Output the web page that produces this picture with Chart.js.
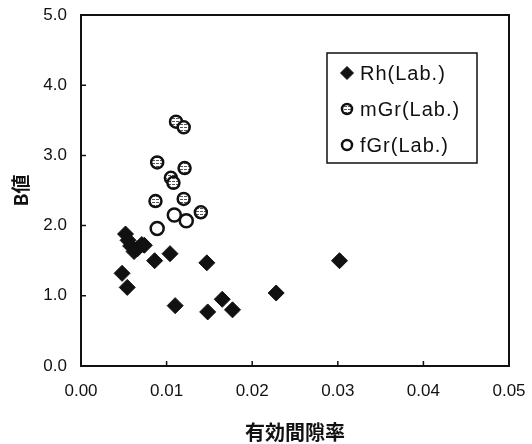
<!DOCTYPE html>
<html>
<head>
<meta charset="utf-8">
<script src="https://cdn.jsdelivr.net/npm/chart.js@4"></script>
<style>
  html, body { margin: 0; padding: 0; background: #fff; }
  #wrap { width: 532px; height: 444px; }
</style>
</head>
<body>
<div id="wrap"><canvas id="myChart"></canvas></div>
<script>
Chart.defaults.font.family = "'Liberation Sans', Arial, sans-serif";
Chart.defaults.font.size = 17;
Chart.defaults.color = '#111';

// Rh (Lab.)
const rhX = [0.0052, 0.0055, 0.0058, 0.0062, 0.0066, 0.0071, 0.0074, 0.0086, 0.0104, 0.0147,
             0.0048, 0.0054, 0.0110, 0.0148, 0.0165, 0.0177, 0.0228, 0.0302];
const rhY = [1.88, 1.79, 1.71, 1.63, 1.67, 1.73, 1.72, 1.50, 1.60, 1.47,
             1.32, 1.12, 0.86, 0.77, 0.95, 0.80, 1.04, 1.50];
// mGr (Lab.)
const mgrX = [0.0111, 0.0120, 0.0089, 0.0121, 0.0105, 0.0108, 0.0087, 0.0120, 0.0140];
const mgrY = [3.48, 3.40, 2.90, 2.82, 2.68, 2.61, 2.35, 2.38, 2.19];
// fGr (Lab.)
const fgrX = [0.0109, 0.0123, 0.0089];
const fgrY = [2.15, 2.07, 1.96];

const seriesLabels = ['Rh(Lab.)', 'mGr(Lab.)', 'fGr(Lab.)'];
const xTicks = [0, 0.01, 0.02, 0.03, 0.04, 0.05];
const yTicks = [0, 1, 2, 3, 4, 5];

function toPoints(xs, ys) {
    return xs.map((x, i) => ({ x: x, y: ys[i] }));
}

// 網掛けの塗り (mGr)
function hatch() {
    const c = document.createElement('canvas');
    c.width = 4; c.height = 3;
    const g = c.getContext('2d');
    g.fillStyle = '#fff';
    g.fillRect(0, 0, 4, 3);
    g.fillStyle = '#555';
    g.fillRect(0, 1, 3, 1);
    return g.createPattern(c, 'repeat');
}

// 枠線と内向きの目盛り
const frame = {
    id: 'frame',
    afterDatasetsDraw(chart) {
        const { ctx, chartArea: a, scales } = chart;
        ctx.save();
        ctx.strokeStyle = '#111';
        ctx.lineWidth = 2;
        ctx.strokeRect(a.left, a.top, a.right - a.left, a.bottom - a.top);
        ctx.lineWidth = 1.5;
        ctx.beginPath();
        yTicks.forEach(v => {
            const y = scales.y.getPixelForValue(v);
            ctx.moveTo(a.left, y); ctx.lineTo(a.left + 5, y);
        });
        xTicks.forEach(v => {
            const x = scales.x.getPixelForValue(v);
            ctx.moveTo(x, a.bottom); ctx.lineTo(x, a.bottom - 5);
        });
        ctx.stroke();
        ctx.restore();
    }
};

// 凡例（グラフ内の枠）
const boxLegend = {
    id: 'boxLegend',
    afterDraw(chart) {
        const ctx = chart.ctx;
        const a = chart.chartArea;
        const left = a.left + 246, top = a.top + 38, w = 150, h = 110;
        ctx.save();
        ctx.fillStyle = '#fff';
        ctx.fillRect(left, top, w, h);
        ctx.strokeStyle = '#111';
        ctx.lineWidth = 1.5;
        ctx.strokeRect(left, top, w, h);
        ctx.font = "20px 'Liberation Sans', Arial, sans-serif";
        ctx.letterSpacing = '1px';
        ctx.textBaseline = 'middle';
        ctx.fillStyle = '#111';
        chart.data.datasets.forEach((ds, i) => {
            const y = top + 20 + i * 36;
            ctx.fillStyle = ds.backgroundColor;
            ctx.strokeStyle = ds.borderColor;
            ctx.lineWidth = ds.borderWidth;
            Chart.helpers.drawPoint(ctx, {
                pointStyle: ds.pointStyle,
                radius: ds.pointStyle === 'rectRot' ? 6.5 : 5,
                borderWidth: ds.borderWidth,
                rotation: 0
            }, left + 20, y);
            ctx.fillStyle = '#111';
            ctx.fillText(ds.label, left + 33, y + 1);
        });
        ctx.restore();
    }
};

var ctx = document.getElementById('myChart').getContext('2d');

var myChart = new Chart(ctx, {
    type: 'scatter',
    data: {
        datasets: [{
            label: seriesLabels[0],
            data: toPoints(rhX, rhY),
            pointStyle: 'rectRot',
            pointRadius: 8,
            backgroundColor: '#111',
            borderColor: '#111',
            borderWidth: 1
        }, {
            label: seriesLabels[1],
            data: toPoints(mgrX, mgrY),
            pointStyle: 'circle',
            pointRadius: 6,
            backgroundColor: hatch(),
            borderColor: '#111',
            borderWidth: 2.5
        }, {
            label: seriesLabels[2],
            data: toPoints(fgrX, fgrY),
            pointStyle: 'circle',
            pointRadius: 6.5,
            backgroundColor: '#fff',
            borderColor: '#111',
            borderWidth: 2.5
        }]
    },
    options: {
        responsive: true,
        maintainAspectRatio: false,
        animation: false,
        layout: { padding: { top: 15, right: 23, left: 0, bottom: 0 } },
        plugins: {
            legend: { display: false },
            tooltip: { enabled: false }
        },
        scales: {
            x: {
                type: 'linear',
                min: 0,
                max: 0.05,
                afterFit: (s) => {
                    s.height = 78;
                    s.paddingLeft = 0;
                    s.paddingRight = 0;
                },
                afterBuildTicks: (s) => { s.ticks = xTicks.map(v => ({ value: v })); },
                grid: { display: false, drawTicks: false },
                border: { display: false },
                ticks: {
                    padding: 15,
                    maxRotation: 0,
                    callback: (v) => v.toFixed(2)
                },
                title: {
                    display: true,
                    text: '有効間隙率',
                    font: { family: "'Noto Sans CJK JP'", size: 20, weight: 'bold' },
                    padding: { top: 0, bottom: 0 }
                }
            },
            y: {
                min: 0,
                max: 5,
                afterFit: (s) => {
                    s.width = 81;
                    s.paddingTop = 0;
                    s.paddingBottom = 0;
                },
                afterBuildTicks: (s) => { s.ticks = yTicks.map(v => ({ value: v })); },
                grid: { display: false, drawTicks: false },
                border: { display: false },
                ticks: {
                    padding: 14,
                    callback: (v) => v.toFixed(1)
                },
                title: {
                    display: true,
                    text: 'B値',
                    font: { family: "'Noto Sans CJK JP'", size: 19, weight: 'bold' },
                    padding: { top: 9, bottom: 0 }
                }
            }
        }
    },
    plugins: [frame, boxLegend]
});
</script>
</body>
</html>
